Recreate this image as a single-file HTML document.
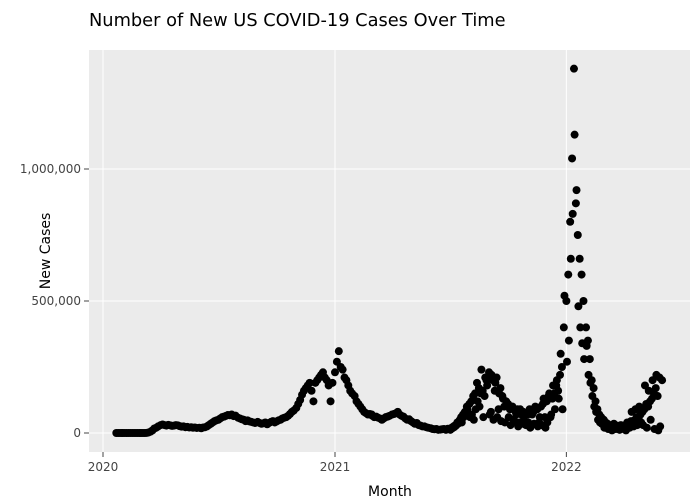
<!DOCTYPE html>
<html><head><meta charset="utf-8"><style>
body{margin:0;background:#fff;font-family:"DejaVu Sans",sans-serif}
svg text{font-family:"DejaVu Sans",sans-serif}
</style></head><body>
<svg id="chart" width="700" height="500">
<text x="89" y="26" font-size="17.8" fill="#000">Number of New US COVID-19 Cases Over Time</text>
<rect x="89" y="50" width="601" height="402" fill="#ebebeb"/>
<g id="grid"></g><g id="axes"></g><g id="pts"></g>
<text x="390" y="496" font-size="14" text-anchor="middle" fill="#000">Month</text>
<text transform="translate(50,251) rotate(-90)" font-size="14" text-anchor="middle" fill="#000">New Cases</text>
</svg>
<script>
const months=["2020-01","2020-02","2020-03","2020-04","2020-05","2020-06","2020-07","2020-08","2020-09","2020-10","2020-11","2020-12","2021-01","2021-02","2021-03","2021-04","2021-05","2021-06","2021-07","2021-08","2021-09","2021-10","2021-11","2021-12","2022-01","2022-02","2022-03","2022-04","2022-05","2022-06"];
const monthStartDay=[22,1,1,1,1,1,1,1,1,1,1,1,1,1,1,1,1,1,1,1,1,1,1,1,1,1,1,1,1,1];
const casesK=[
[0,0,0,0],
[0,0,0,0,0,0,0,0,0,0],
[0,0,0,0.5,2,5,10,17,20,25],
[30,32,30,28,31,29,27,28,30,29],
[26,24,25,22,23,21,22,20,21,19],
[20,18,21,22,25,30,35,40,45,48],
[50,55,60,62,65,68,67,70,64,66],
[58,55,52,50,45,48,44,42,40,38],
[42,38,35,37,40,33,38,42,45,40],
[44,48,50,55,58,60,65,72,80,85],
[95,110,125,145,160,170,180,190,160,120],
[190,200,210,220,230,210,200,180,120,190],
[230,270,310,250,240,210,200,180,160,150],
[140,120,110,100,90,80,75,70,72,70],
[65,60,62,58,55,50,55,60,62,65],
[70,72,75,80,70,65,62,55,50,52],
[45,40,35,38,30,28,25,25,22,20],
[18,15,14,15,12,13,14,15,12,16],
[15,20,25,30,40,45,60,70,80,100],
[110,120,140,150,190,170,150,160,140,200],
[230,80,200,160,210,90,170,140,100,120],
[110,90,100,50,80,90,40,70,80,35],
[70,90,30,80,100,90,40,100,110,60],
[120,140,60,130,150,180,160,220,250,400],
[500,600,800,1040,1380,870,750,660,600,500],
[400,350,280,200,170,120,90,70,60,50],
[50,40,35,30,25,30,20,28,25,30],
[25,30,40,35,45,40,50,60,55,70],
[80,90,110,100,120,130,150,170,140,210],
[200]];
/* weekend/holiday reporting lows and extra highs, from 2021-07 onward */
const extraMonths=["2021-07","2021-08","2021-09","2021-10","2021-11","2021-12","2022-01","2022-02","2022-03","2022-04","2022-05"];
const extraK=[
[12,18,22,28,35,50,40,60,75,90],
[60,70,50,90,120,100,240,60,210,180],
[70,220,50,190,60,150,45,130,40,110],
[60,30,100,45,70,25,90,35,60,30],
[40,20,70,35,95,25,60,30,130,20],
[40,150,70,180,90,200,130,300,90,520],
[270,350,660,830,1130,920,480,400,340,280],
[330,220,190,140,100,80,50,40,35,30],
[20,30,15,25,10,35,15,20,12,25],
[15,10,30,20,80,25,90,30,100,40],
[30,180,20,160,50,200,15,220,10,25]];
const yTicks=[0,500000,1000000];
const yTickLabels=["0","500,000","1,000,000"];
const xTicks=["2020-01-01","2021-01-01","2022-01-01"];
const xTickLabels=["2020","2021","2022"];
const NS="http://www.w3.org/2000/svg";
const t0=Date.UTC(2020,0,1),day=86400000;
function xs(ms){return 103+(ms-t0)/day*(232/366);}
function ys(v){return 433-v*264/1000000;}
function mk(tag,attrs,parent){const e=document.createElementNS(NS,tag);for(const k in attrs)e.setAttribute(k,attrs[k]);document.getElementById(parent).appendChild(e);return e;}
yTicks.forEach((v,i)=>{
 const g=mk('line',{x1:89,x2:690,y1:ys(v),y2:ys(v),stroke:'#fff','stroke-width':1},'grid');
 
 
 const m=mk('line',{x1:84,x2:89,y1:ys(v),y2:ys(v),stroke:'#444'},'axes');
 
 
 const t=mk('text',{x:81,y:ys(v)+4,'font-size':12,fill:'#444','text-anchor':'end'},'axes');
 t.textContent=yTickLabels[i];
 
 
});
xTicks.forEach((d,i)=>{
 const ms=Date.parse(d+"T00:00:00Z");
 const g=mk('line',{x1:xs(ms),x2:xs(ms),y1:50,y2:452,stroke:'#fff','stroke-width':1},'grid');
 
 
 const m=mk('line',{x1:xs(ms),x2:xs(ms),y1:452,y2:457,stroke:'#444'},'axes');
 
 
 const t=mk('text',{x:xs(ms),y:471,'font-size':12,fill:'#444','text-anchor':'middle'},'axes');
 t.textContent=xTickLabels[i];
 
 
});
months.forEach((m,mi)=>{
 const [yy,mm]=m.split('-').map(Number);
 const start=Date.UTC(yy,mm-1,monthStartDay[mi]);
 casesK[mi].forEach((v,k)=>{
  const c=mk('circle',{cx:xs(start+k*3*day),cy:ys(v*1000),r:4,fill:'#000'},'pts');
  
  
 });
});
extraMonths.forEach((m,mi)=>{
 const [yy,mm]=m.split('-').map(Number);
 const start=Date.UTC(yy,mm-1,2);
 extraK[mi].forEach((v,k)=>{
  const c=mk('circle',{cx:xs(start+k*3*day),cy:ys(v*1000),r:4,fill:'#000'},'pts');
  
  
 });
});
</script>
</body></html>
